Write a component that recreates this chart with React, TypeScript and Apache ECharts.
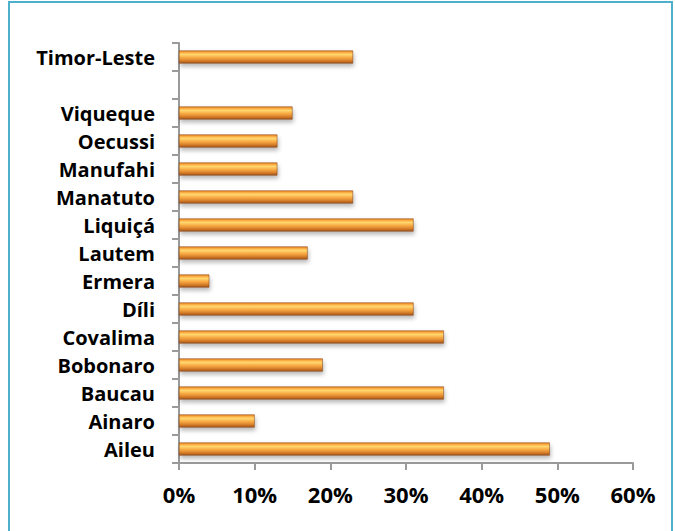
import React, { useEffect, useRef } from "react";
import * as echarts from "echarts";

const categories = [
  "Aileu",
  "Ainaro",
  "Baucau",
  "Bobonaro",
  "Covalima",
  "Díli",
  "Ermera",
  "Lautem",
  "Liquiçá",
  "Manatuto",
  "Manufahi",
  "Oecussi",
  "Viqueque",
  "",
  "Timor-Leste",
];
const values: (number | null)[] = [49, 10, 35, 19, 35, 31, 4, 17, 31, 23, 13, 13, 15, null, 23];
const xTicks = { min: 0, max: 60, interval: 10 };

export default function App() {
  const ref = useRef<HTMLDivElement>(null);
  useEffect(() => {
    if (!ref.current) return;
    const chart = echarts.init(ref.current, undefined, { renderer: "svg" });
    const barColor = new echarts.graphic.LinearGradient(0, 0, 0, 1, [
      { offset: 0, color: "#EE8420" },
      { offset: 0.12, color: "#FBA83E" },
      { offset: 0.3, color: "#FFD670" },
      { offset: 0.5, color: "#FBB24A" },
      { offset: 0.75, color: "#E0872E" },
      { offset: 1, color: "#A2561A" },
    ]);
    chart.setOption({
      animation: false,
      grid: { left: 179, right: 42, top: 43, bottom: 68 },
      xAxis: {
        type: "value",
        min: xTicks.min,
        max: xTicks.max,
        interval: xTicks.interval,
        splitLine: { show: false },
        axisLine: { show: true, lineStyle: { color: "#9a9a9a", width: 2 } },
        axisTick: { show: true, length: 7, lineStyle: { color: "#9a9a9a", width: 2 } },
        axisLabel: {
          formatter: "{value}%",
          fontFamily: "Open Sans",
          fontWeight: "bold",
          fontSize: 22,
          color: "#000",
          margin: 20,
        },
      },
      yAxis: {
        type: "category",
        data: categories,
        axisLine: { show: true, lineStyle: { color: "#9a9a9a", width: 2 } },
        axisTick: { show: true, length: 7, lineStyle: { color: "#9a9a9a", width: 2 } },
        axisLabel: {
          fontFamily: "Open Sans",
          fontWeight: "bold",
          fontSize: 20,
          color: "#000",
          margin: 24,
        },
      },
      series: [
        {
          type: "bar",
          data: values,
          barWidth: 13,
          itemStyle: {
            color: barColor,
            borderColor: "#7A3C10",
            borderWidth: 0.5,
            shadowBlur: 4,
            shadowOffsetX: 1,
            shadowOffsetY: 3,
            shadowColor: "rgba(0,0,0,0.28)",
          },
        },
      ],
    });
    return () => chart.dispose();
  }, []);
  return (
    <div>
      <div
        style={{
          position: "absolute",
          left: 8,
          top: 1,
          width: 665,
          height: 560,
          border: "2px solid #4FB0CE",
          boxSizing: "border-box",
        }}
      />
      <div
        ref={ref}
        style={{ position: "absolute", left: 0, top: 0, width: 675, height: 531 }}
      />
    </div>
  );
}
